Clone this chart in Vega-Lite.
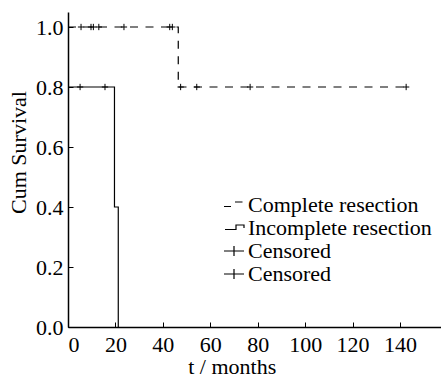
{
  "$schema": "https://vega.github.io/schema/vega-lite/v6.json",
  "width": 373,
  "height": 315,
  "autosize": {"type": "none"},
  "padding": {"left": 68, "top": 12, "right": 0, "bottom": 51},
  "background": "white",
  "config": {
    "view": {"stroke": null},
    "font": "Liberation Serif",
    "axis": {
      "grid": false,
      "domainColor": "black",
      "domainWidth": 1.5,
      "tickColor": "black",
      "tickWidth": 1,
      "tickSize": -5,
      "labelFont": "Liberation Serif",
      "labelFontSize": 22,
      "labelColor": "black",
      "titleFont": "Liberation Serif",
      "titleFontSize": 22,
      "titleFontWeight": "normal",
      "titleColor": "black"
    }
  },
  "datasets": {
    "curves": [
      {"series": "Complete", "t": 0, "s": 1.0},
      {"series": "Complete", "t": 46.5, "s": 0.8},
      {"series": "Complete", "t": 142.6, "s": 0.8},
      {"series": "Incomplete", "t": 0, "s": 0.8},
      {"series": "Incomplete", "t": 19.6, "s": 0.4},
      {"series": "Incomplete", "t": 21.2, "s": 0.0}
    ],
    "censored": [
      {"series": "Complete", "t": 5.5, "s": 1.0},
      {"series": "Complete", "t": 9.7, "s": 1.0},
      {"series": "Complete", "t": 10.7, "s": 1.0},
      {"series": "Complete", "t": 13.0, "s": 1.0},
      {"series": "Complete", "t": 23.6, "s": 1.0},
      {"series": "Complete", "t": 42.9, "s": 1.0},
      {"series": "Complete", "t": 44.0, "s": 1.0},
      {"series": "Complete", "t": 47.5, "s": 0.8},
      {"series": "Complete", "t": 54.3, "s": 0.8},
      {"series": "Complete", "t": 76.8, "s": 0.8},
      {"series": "Complete", "t": 142.6, "s": 0.8},
      {"series": "Incomplete", "t": 5.1, "s": 0.8},
      {"series": "Incomplete", "t": 15.6, "s": 0.8}
    ],
    "legendItems": [
      {"leg": "Complete resection", "t": 0, "s": 0},
      {"leg": "Incomplete resection", "t": 0, "s": 0},
      {"leg": "Censored A", "t": 0, "s": 0},
      {"leg": "Censored B", "t": 0, "s": 0}
    ]
  },
  "layer": [
    {
      "data": {"name": "curves"},
      "mark": {"type": "line", "interpolate": "step-after", "color": "black", "strokeWidth": 1.2},
      "encoding": {
        "x": {
          "field": "t", "type": "quantitative",
          "scale": {"domain": [0, 157.3], "nice": false, "zero": false},
          "axis": {
            "values": [0, 20, 40, 60, 80, 100, 120, 140],
            "labelPadding": 12,
            "title": "t / months",
            "titleX": 163.7,
            "titleY": 46,
            "titleBaseline": "alphabetic",
            "titleAlign": "center",
            "titleAnchor": null
          }
        },
        "y": {
          "field": "s", "type": "quantitative",
          "scale": {"domain": [0, 1.05], "nice": false, "zero": false},
          "axis": {
            "values": [0, 0.2, 0.4, 0.6, 0.8, 1.0],
            "format": ".1f",
            "labelPadding": 10,
            "title": "Cum Survival",
            "titleAngle": -90,
            "titleX": -50,
            "titleY": 140,
            "titleBaseline": "middle",
            "titleAlign": "center",
            "titleAnchor": null
          }
        },
        "strokeDash": {
          "field": "series", "type": "nominal",
          "scale": {"domain": ["Complete", "Incomplete"], "range": [[8, 7.5], [1, 0]]},
          "legend": null
        }
      }
    },
    {
      "data": {"name": "censored"},
      "mark": {"type": "point", "shape": "M-1,0H1M0,-1V1", "size": 40, "filled": false, "stroke": "black", "strokeWidth": 1, "opacity": 1},
      "encoding": {
        "x": {"field": "t", "type": "quantitative"},
        "y": {"field": "s", "type": "quantitative"}
      }
    },
    {
      "data": {"name": "legendItems"},
      "mark": {"type": "point", "filled": false, "opacity": 0, "stroke": "black"},
      "encoding": {
        "x": {"field": "t", "type": "quantitative"},
        "y": {"field": "s", "type": "quantitative"},
        "shape": {
          "field": "leg", "type": "nominal",
          "scale": {
            "domain": ["Complete resection", "Incomplete resection", "Censored A", "Censored B"],
            "range": ["M-1,0.15H-0.3M0.1,-0.3H0.85", "M-0.9,0.15H0.2V-0.3H1V0", "M-1,0H1M0,-0.5V0.5", "M-1,0H1M0,-0.5V0.5"]
          },
          "legend": {
            "orient": "none",
            "legendX": 155,
            "legendY": 182,
            "padding": 0,
            "title": null,
            "symbolSize": 400,
            "symbolStrokeWidth": 1.2,
            "symbolStrokeColor": "black",
            "symbolFillColor": "transparent",
            "symbolOpacity": 1,
            "labelFont": "Liberation Serif",
            "labelFontSize": 22,
            "labelColor": "black",
            "labelOffset": 3,
            "labelLimit": 300,
            "rowPadding": 1,
            "labelExpr": "indexof(datum.label, 'Censored') == 0 ? 'Censored' : datum.label"
          }
        }
      }
    }
  ]
}
